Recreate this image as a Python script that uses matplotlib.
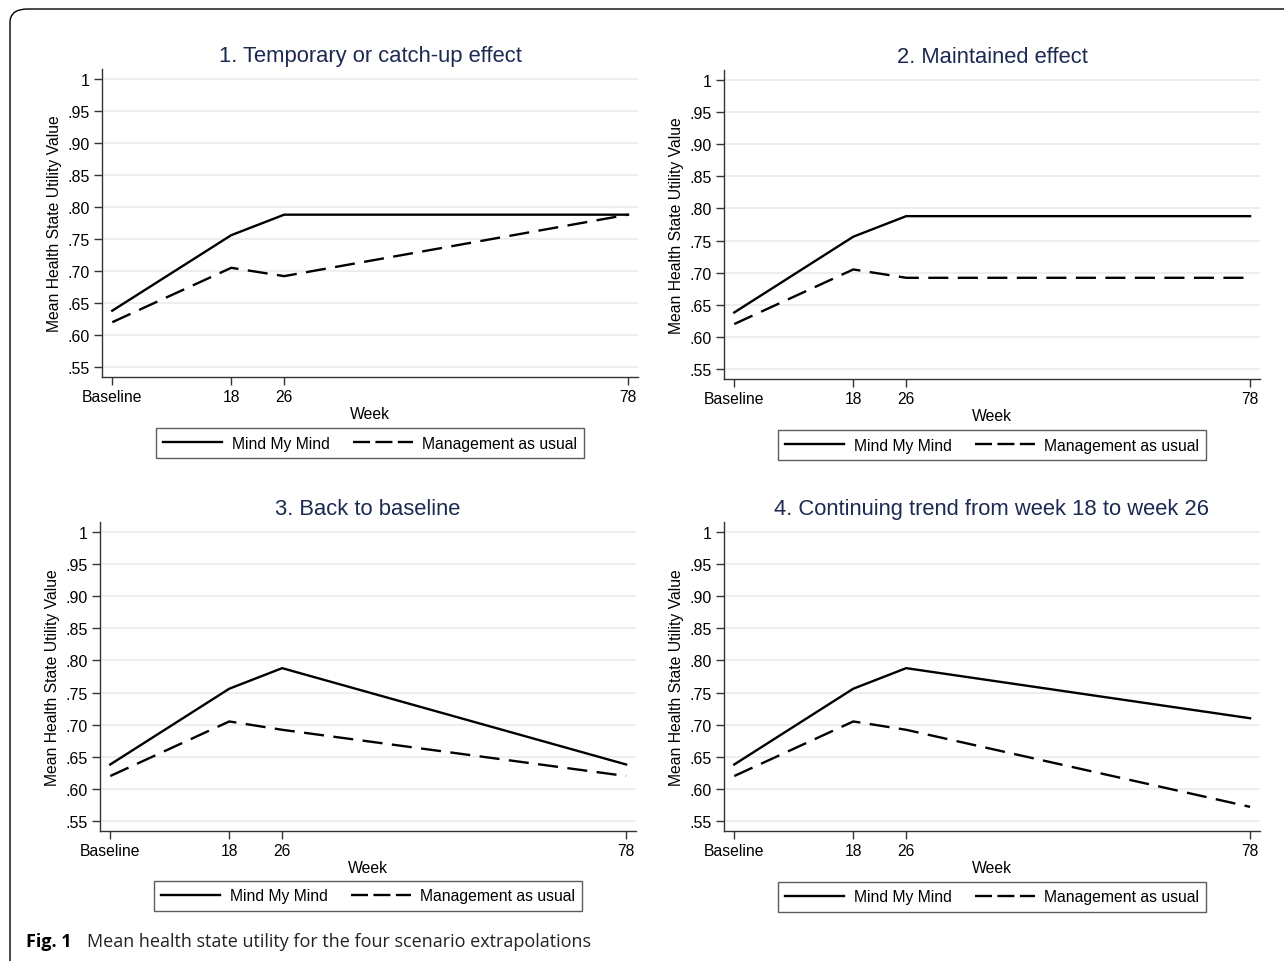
import matplotlib.pyplot as plt
from matplotlib.patches import FancyBboxPatch

plt.rcParams['font.family'] = ['Liberation Sans', 'DejaVu Sans']

# data
weeks = [0, 18, 26, 78]
week_labels = ['Baseline', '18', '26', '78']
titles = ['1. Temporary or catch-up effect',
          '2. Maintained effect',
          '3. Back to baseline',
          '4. Continuing trend from week 18 to week 26']
mmm = [[0.638, 0.756, 0.788, 0.788],
       [0.638, 0.756, 0.788, 0.788],
       [0.638, 0.756, 0.788, 0.638],
       [0.638, 0.756, 0.788, 0.710]]
mau = [[0.620, 0.705, 0.692, 0.788],
       [0.620, 0.705, 0.692, 0.692],
       [0.620, 0.705, 0.692, 0.620],
       [0.620, 0.705, 0.692, 0.572]]
yticks = [0.55, 0.60, 0.65, 0.70, 0.75, 0.80, 0.85, 0.90, 0.95, 1.0]
ytick_labels = ['.55', '.60', '.65', '.70', '.75', '.80', '.85', '.90', '.95', '1']

W, H = 1284, 962
fig = plt.figure(figsize=(W / 100, H / 100), dpi=100)

# rounded frame, only top-left corner visible
frame = FancyBboxPatch((10 / W, -0.2), 1.3, 1 - 10 / H + 0.2,
                       boxstyle='round,pad=0,rounding_size=0.014',
                       transform=fig.transFigure, facecolor='none',
                       edgecolor='black', linewidth=1.0, clip_on=False)
fig.patches.append(frame)

# axes boxes in pixels: left, top, right, bottom
boxes = [(102, 70, 638, 378), (724, 71, 1260, 380),
         (100, 523, 636, 832), (724, 523, 1260, 832)]
legend_pos = [(370, 444), (992, 446), (368, 897), (992, 898)]
navy = '#1c2a52'
grid_c = '#e6eef0'

for i, (l, t, r, b) in enumerate(boxes):
    ax = fig.add_axes([l / W, 1 - b / H, (r - l) / W, (b - t) / H])
    ax.plot(weeks, mmm[i], color='black', lw=1.7, label='Mind My Mind')
    ax.plot(weeks, mau[i], color='black', lw=1.7, dashes=(8.5, 4),
            label='Management as usual')
    ax.set_xlim(-1.55, 79.5)
    ax.set_ylim(0.5344, 1.0156)
    ax.set_xticks(weeks)
    ax.set_xticklabels(week_labels, fontsize=11.3)
    ax.set_yticks(yticks)
    ax.set_yticklabels(ytick_labels, fontsize=11.5)
    ax.tick_params(axis='both', length=6, width=1, pad=3, color='#333333')
    for s in ['top', 'right']:
        ax.spines[s].set_visible(False)
    for s in ['left', 'bottom']:
        ax.spines[s].set_color('#333333')
        ax.spines[s].set_linewidth(1)
    ax.yaxis.grid(True, color=grid_c, lw=1.2)
    ax.set_axisbelow(True)
    ax.set_xlabel('Week', fontsize=11.3, labelpad=1)
    ax.set_ylabel('Mean Health State Utility Value', fontsize=11.3, labelpad=4)
    ax.set_title(titles[i], fontsize=15.8, color=navy, pad=6)
    cx, cy = legend_pos[i]
    leg = ax.legend(loc='center', bbox_to_anchor=(cx / W, 1 - cy / H),
                    bbox_transform=fig.transFigure, ncol=2, fontsize=11.3,
                    frameon=True, fancybox=False, edgecolor='#333333',
                    handlelength=3.8, handletextpad=0.6, columnspacing=1.5,
                    borderpad=0.45, borderaxespad=0)
    leg.get_frame().set_linewidth(1)
    leg.get_lines()[1].set_dashes((7.2, 2.3))

fig.text(26 / W, 1 - 942 / H, 'Fig. 1', fontsize=13, fontweight='bold',
         family=['Open Sans', 'DejaVu Sans'], va='center', ha='left')
fig.text(87 / W, 1 - 942 / H, 'Mean health state utility for the four scenario extrapolations',
         fontsize=13, family=['Open Sans', 'DejaVu Sans'], va='center', ha='left',
         color='#222222')

fig.savefig('out.png', dpi=100)
